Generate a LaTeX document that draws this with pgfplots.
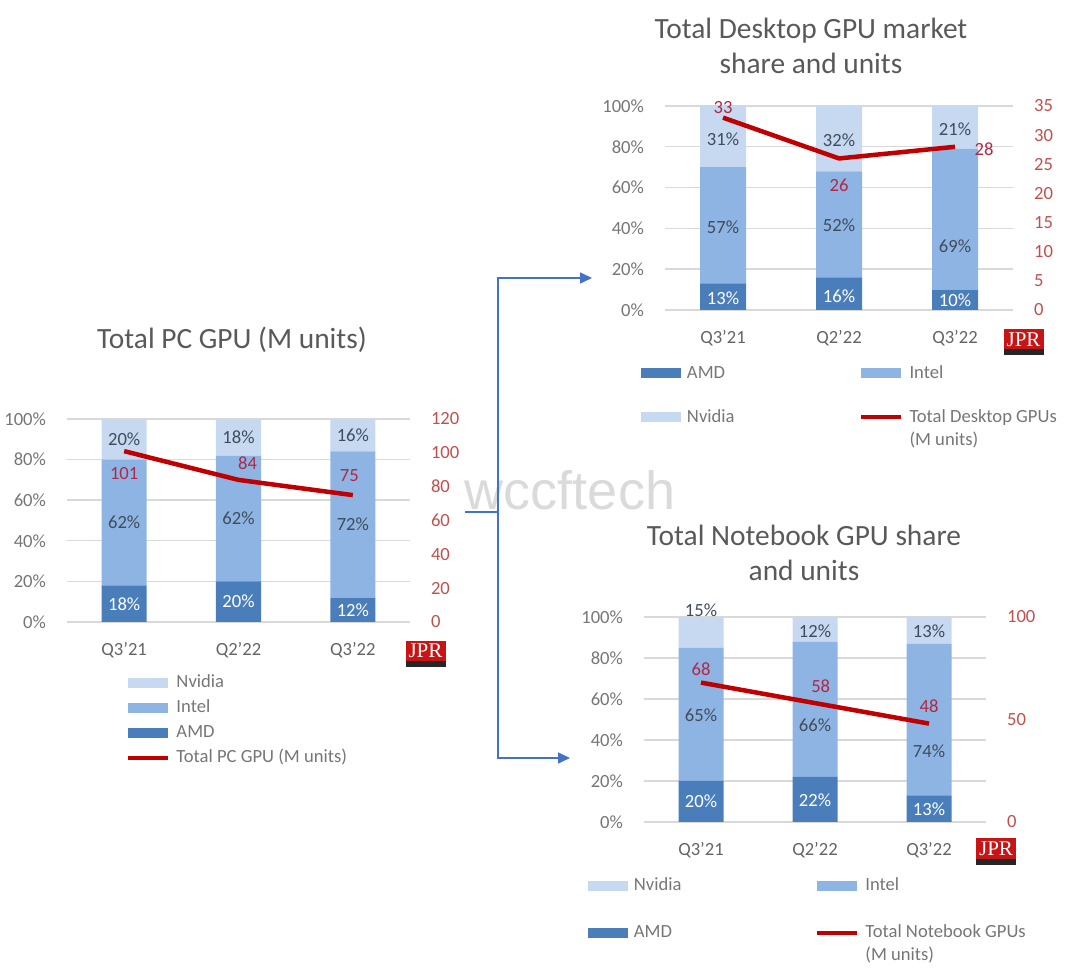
\documentclass[border=0pt]{standalone}
\usepackage{fontspec}
\setmainfont{Carlito}
\newfontfamily\jprfont{Liberation Serif}
\newfontfamily\wmfont{Liberation Sans}
\usepackage{pgfplots}
\pgfplotsset{compat=1.18}
\usetikzlibrary{arrows.meta}

\newcommand\sz{\fontsize{9.3}{11.5}\selectfont}
\newcommand\tf{\fontsize{14.7}{17.5}\selectfont}

\definecolor{amd}{RGB}{74,126,187}
\definecolor{intel}{RGB}{141,180,226}
\definecolor{nvidia}{RGB}{198,217,241}
\definecolor{linered}{RGB}{192,0,0}
\definecolor{redtick}{RGB}{192,80,77}
\definecolor{redlab}{RGB}{176,40,70}
\definecolor{ticktext}{RGB}{118,118,118}
\definecolor{cattext}{RGB}{100,100,100}
\definecolor{datatext}{RGB}{64,76,92}
\definecolor{gridc}{RGB}{217,217,217}
\definecolor{arrowc}{RGB}{68,114,196}
\definecolor{titlec}{RGB}{89,89,89}
\definecolor{jprred}{RGB}{200,20,20}
\definecolor{wmc}{RGB}{218,218,218}

\pgfplotsset{
  barpatch/.style={legend image code/.code={\fill[##1] (0pt,-2.6pt) rectangle (20pt,2.6pt); \path (22.5pt,0pt);}},
  linepatch/.style={legend image code/.code={\draw[##1] (0pt,0pt) -- (20pt,0pt); \path (22.5pt,0pt);}},
  base/.style={scale only axis, anchor=south west, xmin=-0.5, xmax=2.5,
    /pgf/number format/assume math mode=true,
    tick label style={font=\sz}, major tick length=0pt,
    axis line style={draw=none}},
  bars/.style={base, ybar stacked, ymin=0, ymax=100,
    ytick={0,20,...,100}, yticklabel={\pgfmathprintnumber{\tick}\%},
    ymajorgrids, grid style={gridc, line width=0.7pt},
    xtick={0,1,2}, xticklabels={Q3'21,Q2'22,Q3'22},
    yticklabel style={text=ticktext, xshift=-7pt},
    xticklabel style={text=cattext, yshift=-6.5pt}},
  labs/.style={base, hide axis, clip=false, ymin=0, ymax=100},
  rline/.style={base, axis x line=none, axis y line*=right, clip=false,
    yticklabel style={text=redtick, xshift=7pt}},
  whitelab/.style={forget plot, draw=none, mark=none, nodes near coords={\pgfplotspointmeta\%},
    point meta=explicit symbolic,
    every node near coord/.append style={anchor=center, font=\sz, text=white}},
  graylab/.style={forget plot, draw=none, mark=none, nodes near coords={\pgfplotspointmeta\%},
    point meta=explicit symbolic,
    every node near coord/.append style={anchor=center, font=\sz, text=datatext}},
  redlabs/.style={forget plot, draw=none, mark=none, nodes near coords={\pgfplotspointmeta},
    point meta=explicit symbolic,
    every node near coord/.append style={anchor=center, font=\sz, text=redlab}},
  gpuline/.style={linered, line width=2.25pt, line join=round, mark=none},
}

\newcommand\jpr[2]{%
  \begin{scope}[shift={(#1,#2)}]
    \fill[black!85] (-20,-13) rectangle (20,-7);
    \fill[jprred] (-20,-7) rectangle (20,13);
    \node[text=white, inner sep=0pt, font=\jprfont\fontsize{10.5}{10.5}\selectfont] at (0,3) {JPR};
  \end{scope}}

\begin{document}
\begin{tikzpicture}[x=0.5pt,y=0.5pt]
\useasboundingbox (0,0) rectangle (1080,979);

% watermark
\node[text=wmc, font=\wmfont\fontsize{27}{27}\selectfont] at (570,489) {wccftech};

% ---------------- Chart 1: Total PC GPU ----------------
\begin{axis}[bars, at={(33.5pt,178.5pt)}, width=171.5pt, height=101.5pt, bar width=22.5pt]
\addplot[fill=amd, draw=none] coordinates {(0,18) (1,20) (2,12)};
\addplot[fill=intel, draw=none] coordinates {(0,62) (1,62) (2,72)};
\addplot[fill=nvidia, draw=none] coordinates {(0,20) (1,18) (2,16)};
\end{axis}
\begin{axis}[labs, at={(33.5pt,178.5pt)}, width=171.5pt, height=101.5pt,
  legend style={at={(0.172,-0.251)}, anchor=north west, draw=none, fill=none,
    inner sep=0pt, outer sep=0pt, row sep=2.5pt,
    nodes={inner sep=0.5pt, text height=7pt, text depth=2pt, font=\sz, text=ticktext}},
  legend cell align=left]
\addplot[whitelab] table[meta=l] {
x y l
0 9 18
1 10 20
2 6 12
};
\addplot[graylab] table[meta=l] {
x y l
0 49 62
1 51 62
2 48 72
0 90 20
1 91 18
2 92 16
};
\addlegendimage{barpatch, fill=nvidia, draw=none}
\addlegendentry{Nvidia}
\addlegendimage{barpatch, fill=intel, draw=none}
\addlegendentry{Intel}
\addlegendimage{barpatch, fill=amd, draw=none}
\addlegendentry{AMD}
\addlegendimage{linepatch, linered, line width=2.25pt}
\addlegendentry{Total PC GPU (M units)}
\end{axis}
\begin{axis}[rline, at={(33.5pt,178.5pt)}, width=171.5pt, height=101.5pt,
  ymin=0, ymax=120, ytick={0,20,...,120}]
\addplot[gpuline] coordinates {(0,101) (1,84) (2,75)};
\addplot[redlabs] table[meta=l] {
x y l
0 87.5 101
1.08 94 84
1.97 86.3 75
};
\end{axis}

% ---------------- Chart 2: Desktop ----------------
\begin{axis}[bars, at={(332.5pt,334.5pt)}, width=174pt, height=102pt, bar width=23pt]
\addplot[fill=amd, draw=none] coordinates {(0,13) (1,16) (2,10)};
\addplot[fill=intel, draw=none] coordinates {(0,57) (1,52) (2,69)};
\addplot[fill=nvidia, draw=none] coordinates {(0,31) (1,32) (2,21)};
\end{axis}
\begin{axis}[labs, at={(332.5pt,334.5pt)}, width=174pt, height=102pt,
  legend columns=2,
  legend style={at={(-0.069,-0.26)}, anchor=north west, draw=none, fill=none,
    inner sep=0pt, outer sep=0pt, row sep=12pt,
    nodes={inner sep=0.5pt, text height=7pt, text depth=2pt, text width=85.5pt, align=flush left, font=\sz, text=ticktext}},
  legend cell align=left]
\addplot[whitelab] table[meta=l] {
x y l
0 5.9 13
1 6.9 16
2 4.9 10
};
\addplot[graylab] table[meta=l] {
x y l
0 40.7 57
1 41.7 52
2 31.4 69
0 83.8 31
1 83.3 32
2 88.7 21
};
\addlegendimage{barpatch, fill=amd, draw=none}
\addlegendentry{AMD}
\addlegendimage{barpatch, fill=intel, draw=none}
\addlegendentry{Intel}
\addlegendimage{barpatch, fill=nvidia, draw=none}
\addlegendentry{Nvidia}
\addlegendimage{linepatch, linered, line width=2.25pt}
\addlegendentry{Total Desktop GPUs\\(M units)}
\end{axis}
\begin{axis}[rline, at={(332.5pt,334.5pt)}, width=174pt, height=102pt,
  ymin=0, ymax=35, ytick={0,5,...,35}]
\addplot[gpuline] coordinates {(0,33) (1,26) (2,28)};
\addplot[redlabs] table[meta=l] {
x y l
0 34.7 33
1 21.4 26
2.25 27.5 28
};
\end{axis}

% ---------------- Chart 3: Notebook ----------------
\begin{axis}[bars, at={(322pt,78.5pt)}, width=171pt, height=102.5pt, bar width=22.5pt]
\addplot[fill=amd, draw=none] coordinates {(0,20) (1,22) (2,13)};
\addplot[fill=intel, draw=none] coordinates {(0,65) (1,66) (2,74)};
\addplot[fill=nvidia, draw=none] coordinates {(0,15) (1,12) (2,13)};
\end{axis}
\begin{axis}[labs, at={(322pt,78.5pt)}, width=171pt, height=102.5pt,
  legend columns=2,
  legend style={at={(-0.164,-0.263)}, anchor=north west, draw=none, fill=none,
    inner sep=0pt, outer sep=0pt, row sep=13.5pt,
    nodes={inner sep=0.5pt, text height=7pt, text depth=2pt, text width=90pt, align=flush left, font=\sz, text=ticktext}},
  legend cell align=left]
\addplot[whitelab] table[meta=l] {
x y l
0 10.2 20
1 10.7 22
2 6.3 13
};
\addplot[graylab] table[meta=l] {
x y l
0 52.2 65
1 47.3 66
2 34.6 74
0 103.4 15
1 93.2 12
2 93.2 13
};
\addlegendimage{barpatch, fill=nvidia, draw=none}
\addlegendentry{Nvidia}
\addlegendimage{barpatch, fill=intel, draw=none}
\addlegendentry{Intel}
\addlegendimage{barpatch, fill=amd, draw=none}
\addlegendentry{AMD}
\addlegendimage{linepatch, linered, line width=2.25pt}
\addlegendentry{Total Notebook GPUs\\(M units)}
\end{axis}
\begin{axis}[rline, at={(322pt,78.5pt)}, width=171pt, height=102.5pt,
  ymin=0, ymax=100, ytick={0,50,100}]
\addplot[gpuline] coordinates {(0,68) (1,58) (2,48)};
\addplot[redlabs] table[meta=l] {
x y l
0 74.6 68
1.05 66.3 58
2 56.6 48
};
\end{axis}

% titles
\node[font=\tf, text=titlec] at (232,639) {Total PC GPU (M units)};
\node[font=\tf, text=titlec, align=center] at (811,933.5) {Total Desktop GPU market\\share and units};
\node[font=\tf, text=titlec, align=center] at (804,426) {Total Notebook GPU share\\and units};

% arrows
\draw[arrowc, line width=0.8pt] (465,467) -- (498,467);
\draw[arrowc, line width=0.8pt, -{Triangle[length=6pt,width=5.5pt]}] (498,467) |- (592,701);
\draw[arrowc, line width=0.8pt, -{Triangle[length=6pt,width=5.5pt]}] (498,467) |- (570,221);

% JPR logos
\jpr{425.5}{325}
\jpr{1023.5}{636.5}
\jpr{996}{127.5}
\end{tikzpicture}
\end{document}
